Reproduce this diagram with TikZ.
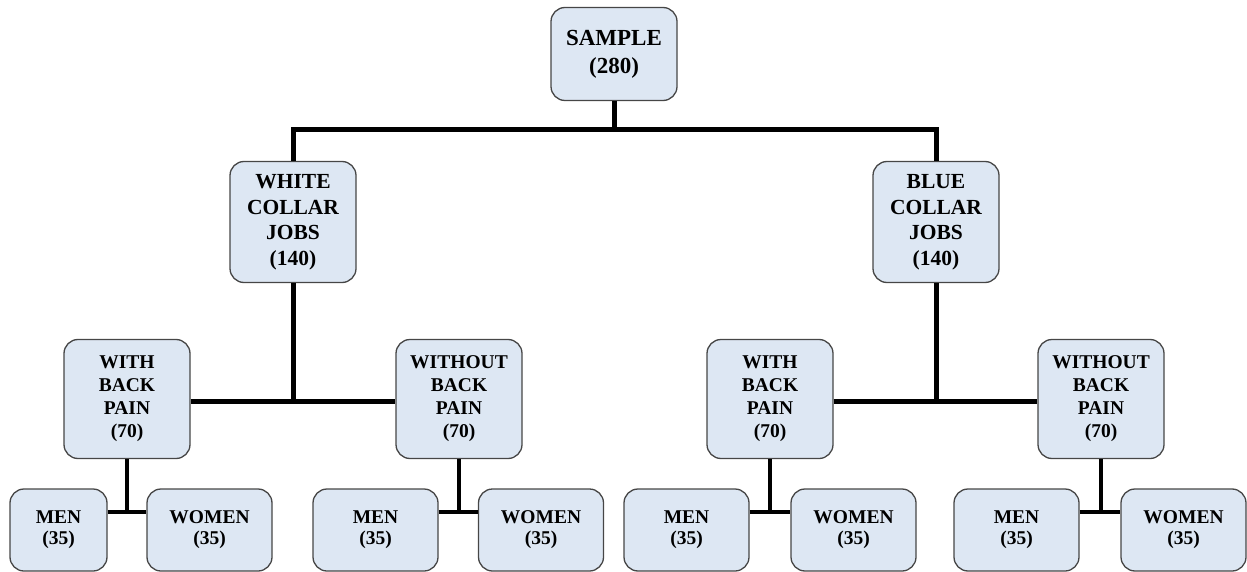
\documentclass[tikz,border=0pt]{standalone}
\usepackage{fontspec}
\setmainfont{Liberation Serif}
\definecolor{boxfill}{RGB}{221,231,243}
\definecolor{boxline}{RGB}{70,70,70}
\begin{document}
\begin{tikzpicture}[x=1pt,y=-1pt,
  box/.style={draw=boxline, fill=boxfill, line width=1.3pt, rounded corners=14pt,
    inner sep=0pt, align=center, font=\bfseries},
  lvA/.style={box, minimum width=126pt, minimum height=93pt, font=\fontsize{23}{28}\selectfont\bfseries},
  lvB/.style={box, minimum width=126pt, minimum height=121pt, font=\fontsize{21.5}{25.5}\selectfont\bfseries},
  lvC/.style={box, minimum width=126pt, minimum height=119pt, font=\fontsize{19.5}{23}\selectfont\bfseries},
  lvD/.style={box, minimum width=125pt, minimum height=82pt, font=\fontsize{19.5}{21}\selectfont\bfseries},
  link/.style={line width=5pt, black, line cap=butt},
  linkthin/.style={line width=4.5pt, black, line cap=butt}
]
\useasboundingbox (0,0) rectangle (1247,572);

\node[lvA] (sample) at (614,54) {SAMPLE\\(280)};
\node[lvB] (white) at (293,222) {WHITE\\COLLAR\\JOBS\\(140)};
\node[lvB] (blue) at (936,222) {BLUE\\COLLAR\\JOBS\\(140)};

\node[lvC] (wwith) at (127,399) {WITH\\BACK\\PAIN\\(70)};
\node[lvC] (wwithout) at (459,399) {WITHOUT\\BACK\\PAIN\\(70)};
\node[lvC] (bwith) at (770,399) {WITH\\BACK\\PAIN\\(70)};
\node[lvC] (bwithout) at (1101,399) {WITHOUT\\BACK\\PAIN\\(70)};

\node[lvD, minimum width=97pt] (men1) at (58.5,530) {MEN\\(35)};
\node[lvD] (women1) at (209.5,530) {WOMEN\\(35)};
\node[lvD] (men2) at (375.5,530) {MEN\\(35)};
\node[lvD] (women2) at (541,530) {WOMEN\\(35)};
\node[lvD] (men3) at (686.5,530) {MEN\\(35)};
\node[lvD] (women3) at (853.5,530) {WOMEN\\(35)};
\node[lvD] (men4) at (1016.5,530) {MEN\\(35)};
\node[lvD] (women4) at (1183.5,530) {WOMEN\\(35)};

% junction points
\coordinate (j0) at (sample.south |- 0,130);
\coordinate (jw) at (white.south |- 0,401);
\coordinate (jb) at (blue.south |- 0,401);
\coordinate (k1) at (wwith.south |- 0,512);
\coordinate (k2) at (wwithout.south |- 0,512);
\coordinate (k3) at (bwith.south |- 0,512);
\coordinate (k4) at (bwithout.south |- 0,512);

% level 1 -> 2
\draw[link] (sample.south) -- (j0);
\draw[link, line join=miter] (white.north) |- (j0) -| (blue.north);
% level 2 -> 3
\draw[link] (white.south) -- ([yshift=2.5pt]jw);
\draw[link] (blue.south) -- ([yshift=2.5pt]jb);
\draw[link] (wwith.east |- jw) -- (wwithout.west |- jw);
\draw[link] (bwith.east |- jb) -- (bwithout.west |- jb);
% level 3 -> 4
\draw[linkthin] (wwith.south) -- ([yshift=2pt]k1);
\draw[linkthin] (men1.east |- k1) -- (women1.west |- k1);
\draw[linkthin] (wwithout.south) -- ([yshift=2pt]k2);
\draw[linkthin] (men2.east |- k2) -- (women2.west |- k2);
\draw[linkthin] (bwith.south) -- ([yshift=2pt]k3);
\draw[linkthin] (men3.east |- k3) -- (women3.west |- k3);
\draw[linkthin] (bwithout.south) -- ([yshift=2pt]k4);
\draw[linkthin] (men4.east |- k4) -- (women4.west |- k4);
\end{tikzpicture}
\end{document}
